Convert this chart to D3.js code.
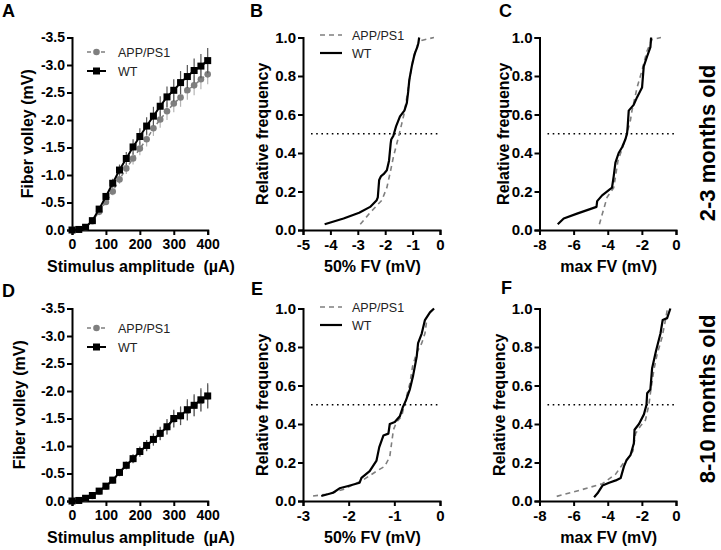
<!DOCTYPE html>
<html><head><meta charset="utf-8">
<script src="https://cdn.jsdelivr.net/npm/d3@7"></script>
<style>
html,body{margin:0;padding:0;background:#fff;}
svg{display:block;font-family:"Liberation Sans",Arial,sans-serif;}
</style></head>
<body>
<svg id="c" width="721" height="550"></svg>
<script>
// ---------- DATA ----------
const stim = [0,20,40,60,80,100,120,140,160,180,200,220,240,260,280,300,320,340,360,380,400];
// Panel A (2-3 months) fiber volley, mV
const aWT   = [0,-0.01,-0.05,-0.17,-0.38,-0.61,-0.85,-1.09,-1.30,-1.51,-1.70,-1.89,-2.07,-2.25,-2.42,-2.54,-2.68,-2.79,-2.90,-2.98,-3.08];
const aWTerr= [0,0,0.01,0.02,0.04,0.06,0.08,0.10,0.12,0.14,0.15,0.16,0.17,0.18,0.19,0.20,0.21,0.21,0.22,0.22,0.23];
const aAPP  = [0,-0.01,-0.04,-0.16,-0.33,-0.51,-0.70,-0.92,-1.12,-1.30,-1.48,-1.65,-1.85,-2.01,-2.16,-2.30,-2.41,-2.54,-2.63,-2.74,-2.83];
const aAPPerr=[0,0,0.01,0.02,0.03,0.05,0.07,0.08,0.10,0.11,0.12,0.13,0.14,0.15,0.16,0.16,0.17,0.17,0.18,0.18,0.18];
// Panel D (8-10 months)
const dWT   = [0,-0.01,-0.05,-0.10,-0.18,-0.27,-0.38,-0.52,-0.65,-0.77,-0.90,-1.01,-1.12,-1.23,-1.35,-1.50,-1.55,-1.66,-1.74,-1.84,-1.91];
const dWTerr= [0,0,0.01,0.02,0.03,0.04,0.05,0.06,0.07,0.08,0.09,0.10,0.11,0.12,0.14,0.16,0.17,0.19,0.20,0.21,0.23];
const dAPP  = [0,-0.01,-0.04,-0.09,-0.17,-0.26,-0.37,-0.51,-0.64,-0.76,-0.89,-1.00,-1.11,-1.22,-1.34,-1.48,-1.54,-1.64,-1.73,-1.82,-1.90];
const dAPPerr=[0,0,0.01,0.02,0.03,0.04,0.05,0.06,0.07,0.08,0.09,0.10,0.11,0.12,0.13,0.15,0.16,0.18,0.19,0.20,0.21];
// Cumulative distributions [value (mV), relative frequency]
const bWT  = [[-4.21,0.03],[-3.52,0.06],[-2.95,0.09],[-2.55,0.12],[-2.31,0.155],[-2.27,0.17],[-2.22,0.26],[-2.15,0.28],[-2.06,0.29],[-1.94,0.31],[-1.86,0.36],[-1.80,0.45],[-1.78,0.47],[-1.70,0.49],[-1.60,0.54],[-1.46,0.59],[-1.30,0.62],[-1.21,0.66],[-1.16,0.72],[-1.12,0.78],[-1.03,0.85],[-0.95,0.90],[-0.91,0.92],[-0.83,0.95],[-0.79,0.97],[-0.76,1.0]];
const bAPP = [[-2.91,0.03],[-2.55,0.09],[-2.12,0.155],[-1.94,0.22],[-1.80,0.31],[-1.70,0.38],[-1.52,0.48],[-1.40,0.55],[-1.30,0.61],[-1.21,0.69],[-1.09,0.80],[-0.97,0.90],[-0.79,0.97],[-0.67,0.985],[-0.22,1.0]];
const cWT  = [[-6.93,0.03],[-6.58,0.06],[-5.80,0.085],[-4.66,0.12],[-4.62,0.15],[-4.33,0.18],[-3.75,0.22],[-3.65,0.28],[-3.55,0.35],[-3.36,0.40],[-3.16,0.43],[-2.97,0.47],[-2.87,0.50],[-2.83,0.54],[-2.77,0.62],[-2.48,0.65],[-2.28,0.69],[-1.99,0.74],[-1.89,0.85],[-1.70,0.90],[-1.50,0.95],[-1.46,1.0]];
const cAPP = [[-4.49,0.03],[-4.04,0.17],[-3.65,0.22],[-3.40,0.36],[-2.97,0.47],[-2.67,0.57],[-2.58,0.62],[-2.28,0.74],[-1.99,0.83],[-1.70,0.93],[-1.40,0.99],[-0.88,1.0]];
const eWT  = [[-2.60,0.026],[-2.34,0.043],[-2.20,0.066],[-2.01,0.078],[-1.76,0.095],[-1.72,0.12],[-1.54,0.155],[-1.39,0.21],[-1.33,0.28],[-1.24,0.34],[-1.13,0.35],[-1.10,0.40],[-0.99,0.41],[-0.88,0.44],[-0.81,0.49],[-0.75,0.52],[-0.66,0.58],[-0.59,0.65],[-0.51,0.75],[-0.48,0.82],[-0.40,0.87],[-0.33,0.94],[-0.22,0.98],[-0.13,1.0]];
const eAPP = [[-2.78,0.026],[-2.49,0.035],[-2.12,0.06],[-1.68,0.11],[-1.39,0.155],[-1.21,0.18],[-1.10,0.23],[-1.06,0.30],[-1.02,0.37],[-0.95,0.41],[-0.84,0.44],[-0.77,0.51],[-0.66,0.61],[-0.60,0.70],[-0.51,0.77],[-0.40,0.82],[-0.33,0.87],[-0.29,0.94]];
const fWT  = [[-4.80,0.02],[-4.60,0.04],[-4.31,0.08],[-3.92,0.095],[-3.53,0.107],[-3.24,0.12],[-3.05,0.18],[-2.91,0.21],[-2.66,0.24],[-2.47,0.30],[-2.43,0.37],[-2.17,0.40],[-1.88,0.45],[-1.73,0.50],[-1.69,0.56],[-1.50,0.58],[-1.40,0.69],[-1.17,0.78],[-0.91,0.87],[-0.78,0.94],[-0.52,0.95],[-0.33,1.0]];
const fAPP = [[-6.99,0.024],[-5.67,0.055],[-4.31,0.09],[-3.53,0.14],[-3.14,0.19],[-2.76,0.23],[-2.52,0.26],[-2.37,0.35],[-2.08,0.39],[-1.79,0.42],[-1.59,0.50],[-1.50,0.56],[-1.30,0.68],[-1.11,0.76],[-0.82,0.85],[-0.66,0.92],[-0.52,0.99]];
// Ticks / labels
const fvTicks   = [0,-0.5,-1.0,-1.5,-2.0,-2.5,-3.0,-3.5];
const stimTicks = [0,100,200,300,400];
const freqTicks = [0,0.2,0.4,0.6,0.8,1.0];
const b50Ticks  = [-5,-4,-3,-2,-1,0];
const e50Ticks  = [-3,-2,-1,0];
const maxTicks  = [-8,-6,-4,-2,0];
const legendNames = ["APP/PS1","WT"];
const panelLetters = ["A","B","C","D","E","F"];
const ageLabels = ["2-3 months old","8-10 months old"];

// ---------- STYLE ----------
const GRAY = "#7f7f7f", ERRGRAY = "#b5b5b5";
const svg = d3.select("#c");
const rows = [{y0:230, y1:37.5},{y0:501, y1:308.5}];
const cols = [{x0:72, x1:207.7},{x0:303, x1:440},{x0:539.5, x1:676}];

function styleAxis(g, fs){
  g.select(".domain").attr("stroke","#000").attr("stroke-width",2);
  g.selectAll(".tick line").attr("stroke","#000").attr("stroke-width",2);
  g.selectAll(".tick text").attr("fill","#000").attr("font-size",fs).attr("font-weight","bold")
   .attr("font-family","'Liberation Sans',Arial,sans-serif");
}
function axes(x, y, xt, yt, xfmt, yfmt, row, fs){
  const gx = svg.append("g").attr("transform",`translate(0,${row.y0})`)
    .call(d3.axisBottom(x).tickValues(xt).tickFormat(xfmt).tickSizeOuter(0).tickSize(5).tickPadding(4));
  styleAxis(gx, fs);
  const gy = svg.append("g").attr("transform",`translate(${x.range()[0]},0)`)
    .call(d3.axisLeft(y).tickValues(yt).tickFormat(yfmt).tickSizeOuter(0).tickSize(5).tickPadding(2));
  styleAxis(gy, fs);
}
const f1 = d => d.toFixed(1);
const f0 = d => String(d);

function ytitle(x, yc, txt){
  svg.append("text").attr("transform",`translate(${x},${yc}) rotate(-90)`).attr("text-anchor","middle")
    .attr("font-size",16).attr("font-weight","bold").text(txt);
}
function xtitle(xc, y, txt, weight){
  svg.append("text").attr("x",xc).attr("y",y).attr("text-anchor","middle").style("white-space","pre")
    .attr("font-size",16).attr("font-weight",weight||"bold").text(txt);
}

// ---------- IV panels (A, D) ----------
function ivPanel(row, wt, wtErr, app, appErr, titleX, legY){
  const c = cols[0];
  const x = d3.scaleLinear().domain([0,400]).range([c.x0,c.x1]);
  const y = d3.scaleLinear().domain([0,-3.5]).range([row.y0,row.y1]);
  axes(x,y,stimTicks,fvTicks,f0,f1,row,14);
  const g = svg.append("g");
  // APP error bars
  g.selectAll(null).data(stim).enter().append("line")
    .attr("x1",(d)=>x(d)).attr("x2",(d)=>x(d))
    .attr("y1",(d,i)=>y(app[i]-appErr[i])).attr("y2",(d,i)=>y(app[i]+appErr[i]))
    .attr("stroke",ERRGRAY).attr("stroke-width",1.2);
  g.append("path").datum(stim).attr("fill","none").attr("stroke",GRAY).attr("stroke-width",1.5)
    .attr("stroke-dasharray","4,3")
    .attr("d",d3.line().x(d=>x(d)).y((d,i)=>y(app[i])));
  g.selectAll(null).data(stim).enter().append("circle")
    .attr("cx",d=>x(d)).attr("cy",(d,i)=>y(app[i])).attr("r",3.3).attr("fill",GRAY);
  // WT error bars
  g.selectAll(null).data(stim).enter().append("line")
    .attr("x1",(d)=>x(d)).attr("x2",(d)=>x(d))
    .attr("y1",(d,i)=>y(wt[i]-wtErr[i])).attr("y2",(d,i)=>y(wt[i]+wtErr[i]))
    .attr("stroke","#555").attr("stroke-width",1.2);
  g.append("path").datum(stim).attr("fill","none").attr("stroke","#000").attr("stroke-width",2)
    .attr("d",d3.line().x(d=>x(d)).y((d,i)=>y(wt[i])));
  g.selectAll(null).data(stim).enter().append("rect")
    .attr("x",d=>x(d)-3.5).attr("y",(d,i)=>y(wt[i])-3.5).attr("width",7).attr("height",7).attr("fill","#000");
  // legend
  const lg = svg.append("g");
  lg.append("line").attr("x1",87).attr("x2",106).attr("y1",legY).attr("y2",legY)
    .attr("stroke",GRAY).attr("stroke-width",1.5).attr("stroke-dasharray","4,3");
  lg.append("circle").attr("cx",96.5).attr("cy",legY).attr("r",3.3).attr("fill",GRAY);
  lg.append("line").attr("x1",87).attr("x2",106).attr("y1",legY+19).attr("y2",legY+19)
    .attr("stroke","#000").attr("stroke-width",2);
  lg.append("rect").attr("x",93).attr("y",legY+15.5).attr("width",7).attr("height",7).attr("fill","#000");
  lg.append("text").attr("x",118).attr("y",legY+4.5).attr("font-size",12.5).attr("fill","#222").text(legendNames[0]);
  lg.append("text").attr("x",118).attr("y",legY+23.5).attr("font-size",12.5).attr("fill","#222").text(legendNames[1]);
  ytitle(titleX,(row.y0+row.y1)/2,"Fiber volley (mV)");
  xtitle(141,row.y0+42,"Stimulus amplitude  (\u00b5A)");
}

// ---------- CDF panels ----------
function cdfPanel(row, col, dom, xt, wt, app, title, titleW, yTitleX, legend, legY){
  const c = cols[col];
  const x = d3.scaleLinear().domain(dom).range([c.x0,c.x1]);
  const y = d3.scaleLinear().domain([0,1]).range([row.y0,row.y1]);
  axes(x,y,xt,freqTicks,f0,f1,row,15);
  svg.append("line").attr("x1",c.x0+8).attr("x2",c.x1-2).attr("y1",y(0.5)).attr("y2",y(0.5))
    .attr("stroke","#000").attr("stroke-width",1.6).attr("stroke-dasharray","1.6,3.6");
  const line = d3.line().x(d=>x(d[0])).y(d=>y(d[1]));
  svg.append("path").datum(app).attr("fill","none").attr("stroke",GRAY).attr("stroke-width",1.6)
    .attr("stroke-dasharray","5,4").attr("d",line);
  svg.append("path").datum(wt).attr("fill","none").attr("stroke","#000").attr("stroke-width",2.2)
    .attr("stroke-linejoin","round").attr("d",line);
  if(legend){
    svg.append("line").attr("x1",c.x0+17).attr("x2",c.x0+39).attr("y1",legY).attr("y2",legY)
      .attr("stroke",GRAY).attr("stroke-width",1.6).attr("stroke-dasharray","5,4");
    svg.append("line").attr("x1",c.x0+17).attr("x2",c.x0+39).attr("y1",legY+18).attr("y2",legY+18)
      .attr("stroke","#000").attr("stroke-width",2.2);
    svg.append("text").attr("x",c.x0+49).attr("y",legY+4.5).attr("font-size",12.5).attr("fill","#222").text(legendNames[0]);
    svg.append("text").attr("x",c.x0+49).attr("y",legY+22.5).attr("font-size",12.5).attr("fill","#222").text(legendNames[1]);
  }
  ytitle(yTitleX,(row.y0+row.y1)/2,"Relative frequency");
  xtitle((c.x0+c.x1)/2+1,row.y0+42,title,titleW);
}

ivPanel(rows[0], aWT, aWTerr, aAPP, aAPPerr, 33, 52);
ivPanel(rows[1], dWT, dWTerr, dAPP, dAPPerr, 25, 328);
cdfPanel(rows[0],1,[-5,0],b50Ticks,bWT,bAPP,"50% FV (mV)","bold",268,true,35);
cdfPanel(rows[0],2,[-8,0],maxTicks,cWT,cAPP,"max FV (mV)","bold",509,false,0);
cdfPanel(rows[1],1,[-3,0],e50Ticks,eWT,eAPP,"50% FV (mV)","bold",268,true,307);
cdfPanel(rows[1],2,[-8,0],maxTicks,fWT,fAPP,"max FV (mV)","bold",505,false,0);

// panel letters
const letterPos = [[2,17],[250,17],[499,17],[2,297],[251,295],[501,294]];
panelLetters.forEach((L,i)=>{
  svg.append("text").attr("x",letterPos[i][0]).attr("y",letterPos[i][1]).attr("font-size",18)
    .attr("font-weight","bold").text(L);
});
// age labels
[[715,143],[715,399]].forEach((p,i)=>{
  svg.append("text").attr("transform",`translate(${p[0]},${p[1]}) rotate(-90)`).attr("text-anchor","middle")
    .attr("font-size",22).attr("font-weight","bold").text(ageLabels[i]);
});
</script>
</body></html>
